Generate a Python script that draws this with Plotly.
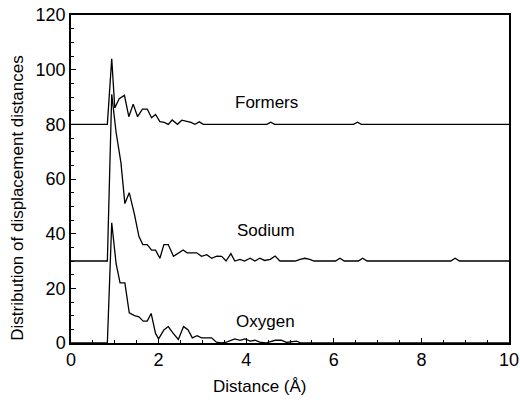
import plotly.graph_objects as go

# Formers series (offset baseline 80)
formers_x = [0, 0.83, 0.93, 1.0, 1.1, 1.22, 1.32, 1.42, 1.52, 1.63, 1.74, 1.84, 1.93, 2.03, 2.13,
             2.22, 2.31, 2.43, 2.53, 2.64, 2.74, 2.83, 2.93, 3.02, 4.47, 4.56, 4.65, 6.45, 6.54, 6.63, 10]
formers_y = [80, 80, 104, 86, 89.4, 90.6, 82.8, 87.4, 82.8, 85.6, 85.6, 82.4, 83.6, 81, 80.7,
             80, 81.6, 80, 81.5, 81, 80.7, 80, 80.9, 80, 80, 80.8, 80, 80, 80.8, 80, 80]

# Sodium series (offset baseline 30)
sodium_x = [0, 0.83, 0.93, 1.03, 1.14, 1.23, 1.33, 1.45, 1.55, 1.64, 1.74, 1.84, 1.93, 2.03, 2.12,
            2.22, 2.34, 2.45, 2.56, 2.65, 2.78, 2.87, 2.98, 3.1, 3.21, 3.33, 3.44, 3.54, 3.65, 3.74,
            3.86, 3.96, 4.09, 4.2, 4.31, 4.42, 4.55, 4.66, 4.77, 5.12, 5.23, 5.34, 5.45, 5.55,
            6.04, 6.14, 6.24, 6.56, 6.66, 6.76, 8.67, 8.77, 8.87, 10]
sodium_y = [30, 30, 91, 77, 66, 51, 55, 47, 39, 36, 36, 34, 34, 31, 36,
            36, 31.7, 32.7, 34, 33, 33, 33, 31.7, 32.3, 31, 31.8, 31.7, 30, 32.7, 30,
            30.6, 30, 31, 30, 31, 30.2, 30.6, 31.8, 30, 30, 30.6, 31, 30.6, 30,
            30, 31, 30, 30, 31, 30, 30, 31, 30, 30]

# Oxygen series (baseline 0)
oxygen_x = [0, 0.83, 0.93, 1.03, 1.12, 1.23, 1.33, 1.45, 1.55, 1.65, 1.74, 1.83, 1.93, 2.0, 2.12,
            2.22, 2.33, 2.45, 2.57, 2.67, 2.77, 2.88, 2.98, 3.1, 3.21, 3.32, 3.44, 3.55, 3.63, 3.74,
            3.86, 3.97, 4.09, 4.2, 4.31, 4.45, 4.66, 4.8, 4.92, 5.05, 5.15, 5.25, 10]
oxygen_y = [0, 0, 44, 29, 22, 22, 11, 10, 9.6, 8, 8, 10.8, 3.5, 1.5, 4.8,
            6, 3.6, 1.3, 6, 4.9, 1.9, 2.7, 1.9, 1.9, 1.9, 0.3, 0, 0.3, 0.7, 1.5,
            1.0, 1.5, 0.7, 1.0, 0.3, 0, 1, 1, 0.2, 0.5, 0.7, 0, 0]

labels = ["Formers", "Sodium", "Oxygen"]
label_x = [4.47, 4.45, 4.45]
label_y = [88, 41.3, 7.8]

x_ticks = [0, 2, 4, 6, 8, 10]
y_ticks = [0, 20, 40, 60, 80, 100, 120]

FONT = "Liberation Sans, Arial, Helvetica, sans-serif"

W, H = 520, 400
PL, PR, PT, PB = 71, 509, 15, 343.5          # plot area in page pixels
ML, MR, MT, MB = PL, W - PR, PT, H - PB
PW, PH = PR - PL, PB - PT

fig = go.Figure()
for xs, ys, name in [(formers_x, formers_y, labels[0]),
                     (sodium_x, sodium_y, labels[1]),
                     (oxygen_x, oxygen_y, labels[2])]:
    fig.add_trace(go.Scatter(x=xs, y=ys, mode="lines", name=name,
                             line=dict(color="black", width=1.3), showlegend=False,
                             hoverinfo="skip"))

for t, lx, ly in zip(labels, label_x, label_y):
    fig.add_annotation(x=lx, y=ly, xref="x", yref="y", text=t, showarrow=False,
                       font=dict(family=FONT, size=17, color="black"))

fig.add_annotation(x=(260 - PL) / PW, y=(PB - 387) / PH, xref="paper", yref="paper",
                   text="Distance (Å)", showarrow=False,
                   font=dict(family=FONT, size=17, color="black"),
                   xanchor="center", yanchor="middle")
fig.add_annotation(x=(18 - PL) / PW, y=(PB - 199) / PH, xref="paper", yref="paper",
                   text="Distribution of displacement distances", showarrow=False, textangle=-90,
                   font=dict(family=FONT, size=17, color="black"),
                   xanchor="center", yanchor="middle")

axis_common = dict(showgrid=False, zeroline=False, showline=True, linecolor="black", linewidth=1.5,
                   mirror=True, ticks="inside", ticklen=5, tickwidth=1.2, tickcolor="black",
                   automargin=False, ticklabeloverflow="allow",
                   tickfont=dict(family=FONT, size=18, color="black"))

fig.update_xaxes(range=[0, 10], tickvals=x_ticks, ticktext=[str(v) for v in x_ticks],
                 minor=dict(dtick=0.5, ticks="inside", ticklen=3, tickcolor="black", tickwidth=1),
                 **axis_common)
fig.update_yaxes(range=[0, 120], tickvals=y_ticks, ticktext=[str(v) for v in y_ticks],
                 minor=dict(dtick=5, ticks="inside", ticklen=3, tickcolor="black", tickwidth=1),
                 **axis_common)

fig.update_layout(width=W, height=H, margin=dict(l=ML, r=MR, t=MT, b=MB),
                  plot_bgcolor="white", paper_bgcolor="white",
                  font=dict(family=FONT, size=16, color="black"))

# remove the page's default body margin so the 520x400 figure fills the window exactly
fig.write_html("out.html", config={"displayModeBar": False},
               post_script="document.body.style.margin='0';document.body.style.overflow='hidden';")
